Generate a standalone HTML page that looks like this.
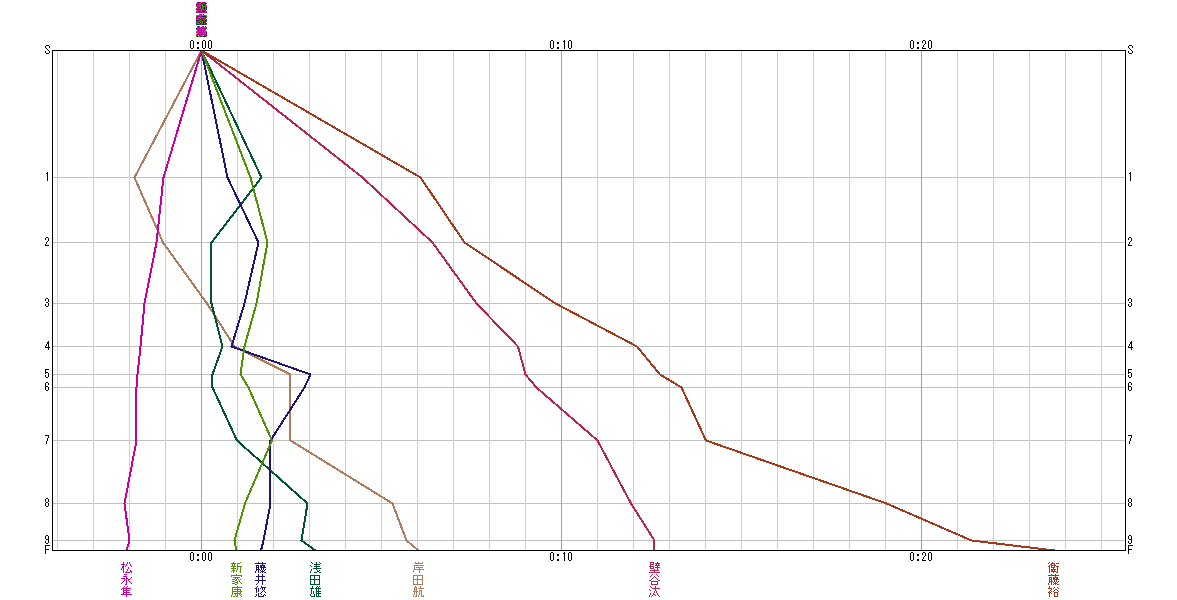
<!DOCTYPE html>
<html><head><meta charset="utf-8"><style>
html,body{margin:0;padding:0;background:#fff;overflow:hidden;}
body{width:1177px;height:600px;font-family:"Liberation Sans",sans-serif;}
svg{display:block;}
</style></head><body>
<svg width="1177" height="600" viewBox="0 0 1177 600">
<rect width="1177" height="600" fill="#fff"/>
<rect x="53" y="177" width="1072" height="1" fill="#c0c0c0"/>
<rect x="53" y="242" width="1072" height="1" fill="#c0c0c0"/>
<rect x="53" y="303" width="1072" height="1" fill="#c0c0c0"/>
<rect x="53" y="346" width="1072" height="1" fill="#c0c0c0"/>
<rect x="53" y="374" width="1072" height="1" fill="#c0c0c0"/>
<rect x="53" y="387" width="1072" height="1" fill="#c0c0c0"/>
<rect x="53" y="440" width="1072" height="1" fill="#c0c0c0"/>
<rect x="53" y="503" width="1072" height="1" fill="#c0c0c0"/>
<rect x="53" y="540" width="1072" height="1" fill="#c0c0c0"/>
<rect x="57" y="51" width="1" height="499" fill="#d0d0d0"/>
<rect x="93" y="51" width="1" height="499" fill="#d0d0d0"/>
<rect x="129" y="51" width="1" height="499" fill="#d0d0d0"/>
<rect x="165" y="51" width="1" height="499" fill="#d0d0d0"/>
<rect x="201" y="51" width="1" height="499" fill="#a0a0a0"/>
<rect x="237" y="51" width="1" height="499" fill="#d0d0d0"/>
<rect x="273" y="51" width="1" height="499" fill="#d0d0d0"/>
<rect x="309" y="51" width="1" height="499" fill="#d0d0d0"/>
<rect x="345" y="51" width="1" height="499" fill="#d0d0d0"/>
<rect x="381" y="51" width="1" height="499" fill="#d0d0d0"/>
<rect x="417" y="51" width="1" height="499" fill="#d0d0d0"/>
<rect x="453" y="51" width="1" height="499" fill="#d0d0d0"/>
<rect x="489" y="51" width="1" height="499" fill="#d0d0d0"/>
<rect x="525" y="51" width="1" height="499" fill="#d0d0d0"/>
<rect x="561" y="51" width="1" height="499" fill="#a0a0a0"/>
<rect x="597" y="51" width="1" height="499" fill="#d0d0d0"/>
<rect x="633" y="51" width="1" height="499" fill="#d0d0d0"/>
<rect x="669" y="51" width="1" height="499" fill="#d0d0d0"/>
<rect x="705" y="51" width="1" height="499" fill="#d0d0d0"/>
<rect x="741" y="51" width="1" height="499" fill="#d0d0d0"/>
<rect x="777" y="51" width="1" height="499" fill="#d0d0d0"/>
<rect x="813" y="51" width="1" height="499" fill="#d0d0d0"/>
<rect x="849" y="51" width="1" height="499" fill="#d0d0d0"/>
<rect x="885" y="51" width="1" height="499" fill="#d0d0d0"/>
<rect x="921" y="51" width="1" height="499" fill="#a0a0a0"/>
<rect x="957" y="51" width="1" height="499" fill="#d0d0d0"/>
<rect x="993" y="51" width="1" height="499" fill="#d0d0d0"/>
<rect x="1029" y="51" width="1" height="499" fill="#d0d0d0"/>
<rect x="1065" y="51" width="1" height="499" fill="#d0d0d0"/>
<rect x="1101" y="51" width="1" height="499" fill="#d0d0d0"/>
<clipPath id="cp"><rect x="53" y="51" width="1072" height="499"/></clipPath><g clip-path="url(#cp)">
<polyline points="201.49,50.49 420.49,177.49 464.49,242.49 555.49,303.49 636.99,346.49 659.99,374.49 681.49,387.49 705.99,440.49 886.49,503.49 971.49,540.49 1054.49,550.49" fill="none" stroke="#a23a1a" stroke-width="2" stroke-linejoin="round" stroke-linecap="round" shape-rendering="crispEdges"/>
<polyline points="201.49,50.49 362.49,177.49 432.49,242.49 476.49,303.49 517.99,346.49 525.49,374.49 536.49,387.49 597.49,440.49 630.99,503.49 654.49,540.49 654.49,550.49" fill="none" stroke="#b82450" stroke-width="2" stroke-linejoin="round" stroke-linecap="round" shape-rendering="crispEdges"/>
<polyline points="201.49,50.49 134.49,177.49 162.99,242.49 206.99,303.49 234.49,346.49 290.49,374.49 290.49,387.49 290.49,440.49 392.49,503.49 406.49,540.49 418.49,550.49" fill="none" stroke="#ae7c5c" stroke-width="2" stroke-linejoin="round" stroke-linecap="round" shape-rendering="crispEdges"/>
<polyline points="201.49,50.49 261.49,177.49 211.49,242.49 211.49,303.49 222.49,346.49 212.49,374.49 212.49,387.49 236.99,440.49 307.49,503.49 301.49,540.49 315.49,550.49" fill="none" stroke="#005530" stroke-width="2" stroke-linejoin="round" stroke-linecap="round" shape-rendering="crispEdges"/>
<polyline points="201.49,50.49 227.49,177.49 258.49,242.49 244.49,303.49 231.49,346.49 310.49,374.49 304.49,387.49 270.49,440.49 270.49,503.49 263.49,540.49 260.99,550.49" fill="none" stroke="#1e1474" stroke-width="2" stroke-linejoin="round" stroke-linecap="round" shape-rendering="crispEdges"/>
<polyline points="201.49,50.49 250.49,177.49 267.49,242.49 256.49,303.49 244.49,346.49 240.49,374.49 248.49,387.49 271.99,440.49 244.99,503.49 234.49,540.49 236.49,550.49" fill="none" stroke="#4e9400" stroke-width="2" stroke-linejoin="round" stroke-linecap="round" shape-rendering="crispEdges"/>
<polyline points="201.49,50.49 163.49,177.49 156.49,242.49 144.49,303.49 140.49,346.49 137.49,374.49 136.49,387.49 136.49,440.49 124.49,503.49 129.49,540.49 126.49,550.49" fill="none" stroke="#c400a0" stroke-width="2" stroke-linejoin="round" stroke-linecap="round" shape-rendering="crispEdges"/>
</g>
<rect x="52" y="50" width="1074" height="1" fill="#000"/>
<rect x="52" y="550" width="1074" height="1" fill="#000"/>
<rect x="52" y="50" width="1" height="501" fill="#000"/>
<rect x="1125" y="50" width="1" height="501" fill="#000"/>
<path d="M46 45h3v1h-3zM45 46h1v1h-1zM49 46h1v1h-1zM45 47h1v1h-1zM49 47h1v1h-1zM46 48h1v1h-1zM47 49h1v1h-1zM48 50h1v1h-1zM45 51h1v1h-1zM49 51h1v1h-1zM45 52h1v1h-1zM49 52h1v1h-1zM46 53h3v1h-3zM1129 45h3v1h-3zM1128 46h1v1h-1zM1132 46h1v1h-1zM1128 47h1v1h-1zM1132 47h1v1h-1zM1129 48h1v1h-1zM1130 49h1v1h-1zM1131 50h1v1h-1zM1128 51h1v1h-1zM1132 51h1v1h-1zM1128 52h1v1h-1zM1132 52h1v1h-1zM1129 53h3v1h-3zM47 172h1v1h-1zM46 173h2v1h-2zM47 174h1v1h-1zM47 175h1v1h-1zM47 176h1v1h-1zM47 177h1v1h-1zM47 178h1v1h-1zM47 179h1v1h-1zM47 180h1v1h-1zM1130 172h1v1h-1zM1129 173h2v1h-2zM1130 174h1v1h-1zM1130 175h1v1h-1zM1130 176h1v1h-1zM1130 177h1v1h-1zM1130 178h1v1h-1zM1130 179h1v1h-1zM1130 180h1v1h-1zM46 237h2v1h-2zM45 238h1v1h-1zM48 238h1v1h-1zM45 239h1v1h-1zM48 239h1v1h-1zM48 240h1v1h-1zM47 241h1v1h-1zM46 242h1v1h-1zM46 243h1v1h-1zM45 244h1v1h-1zM45 245h4v1h-4zM1129 237h2v1h-2zM1128 238h1v1h-1zM1131 238h1v1h-1zM1128 239h1v1h-1zM1131 239h1v1h-1zM1131 240h1v1h-1zM1130 241h1v1h-1zM1129 242h1v1h-1zM1129 243h1v1h-1zM1128 244h1v1h-1zM1128 245h4v1h-4zM46 298h2v1h-2zM45 299h1v1h-1zM48 299h1v1h-1zM45 300h1v1h-1zM48 300h1v1h-1zM48 301h1v1h-1zM46 302h2v1h-2zM48 303h1v1h-1zM45 304h1v1h-1zM48 304h1v1h-1zM45 305h1v1h-1zM48 305h1v1h-1zM46 306h2v1h-2zM1129 298h2v1h-2zM1128 299h1v1h-1zM1131 299h1v1h-1zM1128 300h1v1h-1zM1131 300h1v1h-1zM1131 301h1v1h-1zM1129 302h2v1h-2zM1131 303h1v1h-1zM1128 304h1v1h-1zM1131 304h1v1h-1zM1128 305h1v1h-1zM1131 305h1v1h-1zM1129 306h2v1h-2zM48 341h1v1h-1zM47 342h2v1h-2zM47 343h2v1h-2zM46 344h1v1h-1zM48 344h1v1h-1zM46 345h1v1h-1zM48 345h1v1h-1zM45 346h1v1h-1zM48 346h1v1h-1zM45 347h5v1h-5zM48 348h1v1h-1zM48 349h1v1h-1zM1131 341h1v1h-1zM1130 342h2v1h-2zM1130 343h2v1h-2zM1129 344h1v1h-1zM1131 344h1v1h-1zM1129 345h1v1h-1zM1131 345h1v1h-1zM1128 346h1v1h-1zM1131 346h1v1h-1zM1128 347h5v1h-5zM1131 348h1v1h-1zM1131 349h1v1h-1zM45 369h4v1h-4zM45 370h1v1h-1zM45 371h1v1h-1zM45 372h3v1h-3zM45 373h1v1h-1zM48 373h1v1h-1zM48 374h1v1h-1zM45 375h1v1h-1zM48 375h1v1h-1zM45 376h1v1h-1zM48 376h1v1h-1zM46 377h2v1h-2zM1128 369h4v1h-4zM1128 370h1v1h-1zM1128 371h1v1h-1zM1128 372h3v1h-3zM1128 373h1v1h-1zM1131 373h1v1h-1zM1131 374h1v1h-1zM1128 375h1v1h-1zM1131 375h1v1h-1zM1128 376h1v1h-1zM1131 376h1v1h-1zM1129 377h2v1h-2zM46 382h2v1h-2zM45 383h1v1h-1zM48 383h1v1h-1zM45 384h1v1h-1zM48 384h1v1h-1zM45 385h1v1h-1zM45 386h3v1h-3zM45 387h1v1h-1zM48 387h1v1h-1zM45 388h1v1h-1zM48 388h1v1h-1zM45 389h1v1h-1zM48 389h1v1h-1zM46 390h2v1h-2zM1129 382h2v1h-2zM1128 383h1v1h-1zM1131 383h1v1h-1zM1128 384h1v1h-1zM1131 384h1v1h-1zM1128 385h1v1h-1zM1128 386h3v1h-3zM1128 387h1v1h-1zM1131 387h1v1h-1zM1128 388h1v1h-1zM1131 388h1v1h-1zM1128 389h1v1h-1zM1131 389h1v1h-1zM1129 390h2v1h-2zM45 435h4v1h-4zM48 436h1v1h-1zM48 437h1v1h-1zM47 438h1v1h-1zM47 439h1v1h-1zM47 440h1v1h-1zM46 441h1v1h-1zM46 442h1v1h-1zM46 443h1v1h-1zM1128 435h4v1h-4zM1131 436h1v1h-1zM1131 437h1v1h-1zM1130 438h1v1h-1zM1130 439h1v1h-1zM1130 440h1v1h-1zM1129 441h1v1h-1zM1129 442h1v1h-1zM1129 443h1v1h-1zM46 498h2v1h-2zM45 499h1v1h-1zM48 499h1v1h-1zM45 500h1v1h-1zM48 500h1v1h-1zM45 501h1v1h-1zM48 501h1v1h-1zM46 502h2v1h-2zM45 503h1v1h-1zM48 503h1v1h-1zM45 504h1v1h-1zM48 504h1v1h-1zM45 505h1v1h-1zM48 505h1v1h-1zM46 506h2v1h-2zM1129 498h2v1h-2zM1128 499h1v1h-1zM1131 499h1v1h-1zM1128 500h1v1h-1zM1131 500h1v1h-1zM1128 501h1v1h-1zM1131 501h1v1h-1zM1129 502h2v1h-2zM1128 503h1v1h-1zM1131 503h1v1h-1zM1128 504h1v1h-1zM1131 504h1v1h-1zM1128 505h1v1h-1zM1131 505h1v1h-1zM1129 506h2v1h-2zM46 535h2v1h-2zM45 536h1v1h-1zM48 536h1v1h-1zM45 537h1v1h-1zM48 537h1v1h-1zM45 538h1v1h-1zM48 538h1v1h-1zM46 539h3v1h-3zM48 540h1v1h-1zM45 541h1v1h-1zM48 541h1v1h-1zM45 542h1v1h-1zM48 542h1v1h-1zM46 543h2v1h-2zM1129 535h2v1h-2zM1128 536h1v1h-1zM1131 536h1v1h-1zM1128 537h1v1h-1zM1131 537h1v1h-1zM1128 538h1v1h-1zM1131 538h1v1h-1zM1129 539h3v1h-3zM1131 540h1v1h-1zM1128 541h1v1h-1zM1131 541h1v1h-1zM1128 542h1v1h-1zM1131 542h1v1h-1zM1129 543h2v1h-2zM45 545h5v1h-5zM45 546h1v1h-1zM45 547h1v1h-1zM45 548h1v1h-1zM45 549h4v1h-4zM45 550h1v1h-1zM45 551h1v1h-1zM45 552h1v1h-1zM45 553h1v1h-1zM1128 545h5v1h-5zM1128 546h1v1h-1zM1128 547h1v1h-1zM1128 548h1v1h-1zM1128 549h4v1h-4zM1128 550h1v1h-1zM1128 551h1v1h-1zM1128 552h1v1h-1zM1128 553h1v1h-1zM191 40h2v1h-2zM190 41h1v1h-1zM193 41h1v1h-1zM190 42h1v1h-1zM193 42h1v1h-1zM190 43h1v1h-1zM193 43h1v1h-1zM190 44h1v1h-1zM193 44h1v1h-1zM190 45h1v1h-1zM193 45h1v1h-1zM190 46h1v1h-1zM193 46h1v1h-1zM190 47h1v1h-1zM193 47h1v1h-1zM191 48h2v1h-2zM197 42h2v1h-2zM197 43h2v1h-2zM197 47h2v1h-2zM197 48h2v1h-2zM203 40h2v1h-2zM202 41h1v1h-1zM205 41h1v1h-1zM202 42h1v1h-1zM205 42h1v1h-1zM202 43h1v1h-1zM205 43h1v1h-1zM202 44h1v1h-1zM205 44h1v1h-1zM202 45h1v1h-1zM205 45h1v1h-1zM202 46h1v1h-1zM205 46h1v1h-1zM202 47h1v1h-1zM205 47h1v1h-1zM203 48h2v1h-2zM209 40h2v1h-2zM208 41h1v1h-1zM211 41h1v1h-1zM208 42h1v1h-1zM211 42h1v1h-1zM208 43h1v1h-1zM211 43h1v1h-1zM208 44h1v1h-1zM211 44h1v1h-1zM208 45h1v1h-1zM211 45h1v1h-1zM208 46h1v1h-1zM211 46h1v1h-1zM208 47h1v1h-1zM211 47h1v1h-1zM209 48h2v1h-2zM191 552h2v1h-2zM190 553h1v1h-1zM193 553h1v1h-1zM190 554h1v1h-1zM193 554h1v1h-1zM190 555h1v1h-1zM193 555h1v1h-1zM190 556h1v1h-1zM193 556h1v1h-1zM190 557h1v1h-1zM193 557h1v1h-1zM190 558h1v1h-1zM193 558h1v1h-1zM190 559h1v1h-1zM193 559h1v1h-1zM191 560h2v1h-2zM197 554h2v1h-2zM197 555h2v1h-2zM197 559h2v1h-2zM197 560h2v1h-2zM203 552h2v1h-2zM202 553h1v1h-1zM205 553h1v1h-1zM202 554h1v1h-1zM205 554h1v1h-1zM202 555h1v1h-1zM205 555h1v1h-1zM202 556h1v1h-1zM205 556h1v1h-1zM202 557h1v1h-1zM205 557h1v1h-1zM202 558h1v1h-1zM205 558h1v1h-1zM202 559h1v1h-1zM205 559h1v1h-1zM203 560h2v1h-2zM209 552h2v1h-2zM208 553h1v1h-1zM211 553h1v1h-1zM208 554h1v1h-1zM211 554h1v1h-1zM208 555h1v1h-1zM211 555h1v1h-1zM208 556h1v1h-1zM211 556h1v1h-1zM208 557h1v1h-1zM211 557h1v1h-1zM208 558h1v1h-1zM211 558h1v1h-1zM208 559h1v1h-1zM211 559h1v1h-1zM209 560h2v1h-2zM551 40h2v1h-2zM550 41h1v1h-1zM553 41h1v1h-1zM550 42h1v1h-1zM553 42h1v1h-1zM550 43h1v1h-1zM553 43h1v1h-1zM550 44h1v1h-1zM553 44h1v1h-1zM550 45h1v1h-1zM553 45h1v1h-1zM550 46h1v1h-1zM553 46h1v1h-1zM550 47h1v1h-1zM553 47h1v1h-1zM551 48h2v1h-2zM557 42h2v1h-2zM557 43h2v1h-2zM557 47h2v1h-2zM557 48h2v1h-2zM564 40h1v1h-1zM563 41h2v1h-2zM564 42h1v1h-1zM564 43h1v1h-1zM564 44h1v1h-1zM564 45h1v1h-1zM564 46h1v1h-1zM564 47h1v1h-1zM564 48h1v1h-1zM569 40h2v1h-2zM568 41h1v1h-1zM571 41h1v1h-1zM568 42h1v1h-1zM571 42h1v1h-1zM568 43h1v1h-1zM571 43h1v1h-1zM568 44h1v1h-1zM571 44h1v1h-1zM568 45h1v1h-1zM571 45h1v1h-1zM568 46h1v1h-1zM571 46h1v1h-1zM568 47h1v1h-1zM571 47h1v1h-1zM569 48h2v1h-2zM551 552h2v1h-2zM550 553h1v1h-1zM553 553h1v1h-1zM550 554h1v1h-1zM553 554h1v1h-1zM550 555h1v1h-1zM553 555h1v1h-1zM550 556h1v1h-1zM553 556h1v1h-1zM550 557h1v1h-1zM553 557h1v1h-1zM550 558h1v1h-1zM553 558h1v1h-1zM550 559h1v1h-1zM553 559h1v1h-1zM551 560h2v1h-2zM557 554h2v1h-2zM557 555h2v1h-2zM557 559h2v1h-2zM557 560h2v1h-2zM564 552h1v1h-1zM563 553h2v1h-2zM564 554h1v1h-1zM564 555h1v1h-1zM564 556h1v1h-1zM564 557h1v1h-1zM564 558h1v1h-1zM564 559h1v1h-1zM564 560h1v1h-1zM569 552h2v1h-2zM568 553h1v1h-1zM571 553h1v1h-1zM568 554h1v1h-1zM571 554h1v1h-1zM568 555h1v1h-1zM571 555h1v1h-1zM568 556h1v1h-1zM571 556h1v1h-1zM568 557h1v1h-1zM571 557h1v1h-1zM568 558h1v1h-1zM571 558h1v1h-1zM568 559h1v1h-1zM571 559h1v1h-1zM569 560h2v1h-2zM911 40h2v1h-2zM910 41h1v1h-1zM913 41h1v1h-1zM910 42h1v1h-1zM913 42h1v1h-1zM910 43h1v1h-1zM913 43h1v1h-1zM910 44h1v1h-1zM913 44h1v1h-1zM910 45h1v1h-1zM913 45h1v1h-1zM910 46h1v1h-1zM913 46h1v1h-1zM910 47h1v1h-1zM913 47h1v1h-1zM911 48h2v1h-2zM917 42h2v1h-2zM917 43h2v1h-2zM917 47h2v1h-2zM917 48h2v1h-2zM923 40h2v1h-2zM922 41h1v1h-1zM925 41h1v1h-1zM922 42h1v1h-1zM925 42h1v1h-1zM925 43h1v1h-1zM924 44h1v1h-1zM923 45h1v1h-1zM923 46h1v1h-1zM922 47h1v1h-1zM922 48h4v1h-4zM929 40h2v1h-2zM928 41h1v1h-1zM931 41h1v1h-1zM928 42h1v1h-1zM931 42h1v1h-1zM928 43h1v1h-1zM931 43h1v1h-1zM928 44h1v1h-1zM931 44h1v1h-1zM928 45h1v1h-1zM931 45h1v1h-1zM928 46h1v1h-1zM931 46h1v1h-1zM928 47h1v1h-1zM931 47h1v1h-1zM929 48h2v1h-2zM911 552h2v1h-2zM910 553h1v1h-1zM913 553h1v1h-1zM910 554h1v1h-1zM913 554h1v1h-1zM910 555h1v1h-1zM913 555h1v1h-1zM910 556h1v1h-1zM913 556h1v1h-1zM910 557h1v1h-1zM913 557h1v1h-1zM910 558h1v1h-1zM913 558h1v1h-1zM910 559h1v1h-1zM913 559h1v1h-1zM911 560h2v1h-2zM917 554h2v1h-2zM917 555h2v1h-2zM917 559h2v1h-2zM917 560h2v1h-2zM923 552h2v1h-2zM922 553h1v1h-1zM925 553h1v1h-1zM922 554h1v1h-1zM925 554h1v1h-1zM925 555h1v1h-1zM924 556h1v1h-1zM923 557h1v1h-1zM923 558h1v1h-1zM922 559h1v1h-1zM922 560h4v1h-4zM929 552h2v1h-2zM928 553h1v1h-1zM931 553h1v1h-1zM928 554h1v1h-1zM931 554h1v1h-1zM928 555h1v1h-1zM931 555h1v1h-1zM928 556h1v1h-1zM931 556h1v1h-1zM928 557h1v1h-1zM931 557h1v1h-1zM928 558h1v1h-1zM931 558h1v1h-1zM928 559h1v1h-1zM931 559h1v1h-1zM929 560h2v1h-2z" fill="#000"/>
<path d="M1049 562h1v1h-1zM1052 562h1v1h-1zM1048 563h1v1h-1zM1051 563h4v1h-4zM1056 563h3v1h-3zM1050 564h2v1h-2zM1054 564h1v1h-1zM1049 565h1v1h-1zM1051 565h5v1h-5zM1048 566h2v1h-2zM1051 566h1v1h-1zM1054 566h1v1h-1zM1056 566h3v1h-3zM1049 567h1v1h-1zM1051 567h4v1h-4zM1057 567h1v1h-1zM1049 568h1v1h-1zM1053 568h1v1h-1zM1057 568h1v1h-1zM1049 569h1v1h-1zM1051 569h5v1h-5zM1057 569h1v1h-1zM1049 570h1v1h-1zM1051 570h2v1h-2zM1054 570h1v1h-1zM1057 570h1v1h-1zM1049 571h1v1h-1zM1051 571h5v1h-5zM1057 571h1v1h-1zM1049 572h1v1h-1zM1053 572h1v1h-1zM1056 572h2v1h-2zM1051 574h1v1h-1zM1055 574h1v1h-1zM1048 575h11v1h-11zM1055 576h1v1h-1zM1049 577h3v1h-3zM1053 577h5v1h-5zM1049 578h1v1h-1zM1051 578h1v1h-1zM1053 578h2v1h-2zM1056 578h2v1h-2zM1049 579h3v1h-3zM1053 579h6v1h-6zM1049 580h1v1h-1zM1051 580h1v1h-1zM1054 580h1v1h-1zM1056 580h1v1h-1zM1049 581h4v1h-4zM1054 581h1v1h-1zM1056 581h1v1h-1zM1058 581h1v1h-1zM1049 582h1v1h-1zM1051 582h1v1h-1zM1053 582h1v1h-1zM1055 582h1v1h-1zM1057 582h1v1h-1zM1048 583h1v1h-1zM1051 583h1v1h-1zM1054 583h3v1h-3zM1048 584h1v1h-1zM1051 584h1v1h-1zM1053 584h1v1h-1zM1055 584h1v1h-1zM1057 584h2v1h-2zM1049 586h1v1h-1zM1049 587h1v1h-1zM1054 587h1v1h-1zM1057 587h1v1h-1zM1048 588h4v1h-4zM1053 588h1v1h-1zM1058 588h1v1h-1zM1051 589h1v1h-1zM1055 589h2v1h-2zM1050 590h1v1h-1zM1054 590h1v1h-1zM1057 590h1v1h-1zM1049 591h1v1h-1zM1051 591h1v1h-1zM1053 591h1v1h-1zM1058 591h1v1h-1zM1048 592h3v1h-3zM1054 592h4v1h-4zM1049 593h1v1h-1zM1051 593h1v1h-1zM1054 593h1v1h-1zM1057 593h1v1h-1zM1049 594h1v1h-1zM1054 594h1v1h-1zM1057 594h1v1h-1zM1049 595h1v1h-1zM1054 595h1v1h-1zM1057 595h1v1h-1zM1049 596h1v1h-1zM1054 596h4v1h-4z" fill="#a23a1a"/>
<path d="M650 562h4v1h-4zM657 562h1v1h-1zM650 563h1v1h-1zM653 563h1v1h-1zM655 563h5v1h-5zM650 564h4v1h-4zM656 564h1v1h-1zM658 564h1v1h-1zM650 565h1v1h-1zM655 565h5v1h-5zM649 566h5v1h-5zM657 566h1v1h-1zM650 567h1v1h-1zM653 567h1v1h-1zM655 567h5v1h-5zM650 568h4v1h-4zM657 568h1v1h-1zM654 569h1v1h-1zM657 569h1v1h-1zM650 570h9v1h-9zM654 571h1v1h-1zM649 572h11v1h-11zM652 574h1v1h-1zM656 574h1v1h-1zM651 575h1v1h-1zM657 575h1v1h-1zM650 576h1v1h-1zM654 576h1v1h-1zM658 576h1v1h-1zM653 577h1v1h-1zM655 577h1v1h-1zM652 578h1v1h-1zM656 578h1v1h-1zM651 579h1v1h-1zM657 579h1v1h-1zM649 580h2v1h-2zM658 580h2v1h-2zM651 581h7v1h-7zM651 582h1v1h-1zM657 582h1v1h-1zM651 583h1v1h-1zM657 583h1v1h-1zM651 584h7v1h-7zM650 586h1v1h-1zM655 586h1v1h-1zM651 587h1v1h-1zM655 587h1v1h-1zM652 588h8v1h-8zM649 589h1v1h-1zM655 589h1v1h-1zM650 590h1v1h-1zM655 590h1v1h-1zM654 591h1v1h-1zM656 591h1v1h-1zM654 592h1v1h-1zM656 592h1v1h-1zM650 593h1v1h-1zM653 593h1v1h-1zM657 593h1v1h-1zM650 594h1v1h-1zM653 594h2v1h-2zM657 594h1v1h-1zM649 595h1v1h-1zM652 595h1v1h-1zM655 595h1v1h-1zM658 595h1v1h-1zM649 596h1v1h-1zM651 596h1v1h-1zM659 596h1v1h-1z" fill="#b82450"/>
<path d="M415 562h1v1h-1zM418 562h1v1h-1zM422 562h1v1h-1zM415 563h8v1h-8zM414 565h10v1h-10zM414 566h1v1h-1zM414 567h1v1h-1zM416 567h7v1h-7zM414 568h1v1h-1zM419 568h1v1h-1zM414 569h10v1h-10zM413 570h1v1h-1zM419 570h1v1h-1zM413 571h1v1h-1zM419 571h1v1h-1zM419 572h1v1h-1zM413 575h10v1h-10zM413 576h1v1h-1zM417 576h1v1h-1zM422 576h1v1h-1zM413 577h1v1h-1zM417 577h1v1h-1zM422 577h1v1h-1zM413 578h1v1h-1zM417 578h1v1h-1zM422 578h1v1h-1zM413 579h10v1h-10zM413 580h1v1h-1zM417 580h1v1h-1zM422 580h1v1h-1zM413 581h1v1h-1zM417 581h1v1h-1zM422 581h1v1h-1zM413 582h1v1h-1zM417 582h1v1h-1zM422 582h1v1h-1zM413 583h1v1h-1zM417 583h1v1h-1zM422 583h1v1h-1zM413 584h10v1h-10zM415 586h1v1h-1zM420 586h1v1h-1zM414 587h3v1h-3zM420 587h1v1h-1zM414 588h1v1h-1zM416 588h1v1h-1zM418 588h6v1h-6zM414 589h3v1h-3zM414 590h1v1h-1zM416 590h1v1h-1zM419 590h3v1h-3zM413 591h5v1h-5zM419 591h1v1h-1zM421 591h1v1h-1zM414 592h1v1h-1zM416 592h1v1h-1zM419 592h1v1h-1zM421 592h1v1h-1zM414 593h1v1h-1zM416 593h1v1h-1zM419 593h1v1h-1zM421 593h1v1h-1zM414 594h1v1h-1zM416 594h1v1h-1zM419 594h1v1h-1zM421 594h1v1h-1zM413 595h1v1h-1zM416 595h1v1h-1zM418 595h1v1h-1zM421 595h1v1h-1zM423 595h1v1h-1zM413 596h1v1h-1zM415 596h2v1h-2zM418 596h1v1h-1zM421 596h3v1h-3z" fill="#ae7c5c"/>
<path d="M311 562h1v1h-1zM316 562h1v1h-1zM319 562h1v1h-1zM312 563h1v1h-1zM316 563h1v1h-1zM320 563h1v1h-1zM314 564h6v1h-6zM310 565h1v1h-1zM316 565h1v1h-1zM311 566h1v1h-1zM314 566h6v1h-6zM316 567h1v1h-1zM313 568h8v1h-8zM311 569h1v1h-1zM316 569h1v1h-1zM311 570h1v1h-1zM317 570h1v1h-1zM319 570h1v1h-1zM310 571h1v1h-1zM317 571h2v1h-2zM310 572h1v1h-1zM314 572h3v1h-3zM319 572h2v1h-2zM310 575h10v1h-10zM310 576h1v1h-1zM314 576h1v1h-1zM319 576h1v1h-1zM310 577h1v1h-1zM314 577h1v1h-1zM319 577h1v1h-1zM310 578h1v1h-1zM314 578h1v1h-1zM319 578h1v1h-1zM310 579h10v1h-10zM310 580h1v1h-1zM314 580h1v1h-1zM319 580h1v1h-1zM310 581h1v1h-1zM314 581h1v1h-1zM319 581h1v1h-1zM310 582h1v1h-1zM314 582h1v1h-1zM319 582h1v1h-1zM310 583h1v1h-1zM314 583h1v1h-1zM319 583h1v1h-1zM310 584h10v1h-10zM312 586h1v1h-1zM317 586h1v1h-1zM319 586h1v1h-1zM312 587h1v1h-1zM316 587h1v1h-1zM318 587h1v1h-1zM310 588h4v1h-4zM315 588h6v1h-6zM311 589h1v1h-1zM316 589h1v1h-1zM318 589h1v1h-1zM311 590h1v1h-1zM316 590h1v1h-1zM318 590h1v1h-1zM311 591h1v1h-1zM313 591h1v1h-1zM316 591h5v1h-5zM311 592h1v1h-1zM313 592h1v1h-1zM316 592h1v1h-1zM318 592h1v1h-1zM311 593h1v1h-1zM313 593h1v1h-1zM316 593h5v1h-5zM310 594h1v1h-1zM314 594h1v1h-1zM316 594h1v1h-1zM318 594h1v1h-1zM310 595h1v1h-1zM314 595h1v1h-1zM316 595h1v1h-1zM318 595h1v1h-1zM311 596h4v1h-4zM316 596h5v1h-5z" fill="#005530"/>
<path d="M258 562h1v1h-1zM262 562h1v1h-1zM255 563h11v1h-11zM262 564h1v1h-1zM256 565h3v1h-3zM260 565h5v1h-5zM256 566h1v1h-1zM258 566h1v1h-1zM260 566h2v1h-2zM263 566h2v1h-2zM256 567h3v1h-3zM260 567h6v1h-6zM256 568h1v1h-1zM258 568h1v1h-1zM261 568h1v1h-1zM263 568h1v1h-1zM256 569h4v1h-4zM261 569h1v1h-1zM263 569h1v1h-1zM265 569h1v1h-1zM256 570h1v1h-1zM258 570h1v1h-1zM260 570h1v1h-1zM262 570h1v1h-1zM264 570h1v1h-1zM255 571h1v1h-1zM258 571h1v1h-1zM261 571h3v1h-3zM255 572h1v1h-1zM258 572h1v1h-1zM260 572h1v1h-1zM262 572h1v1h-1zM264 572h2v1h-2zM258 574h1v1h-1zM262 574h1v1h-1zM258 575h1v1h-1zM262 575h1v1h-1zM256 576h9v1h-9zM258 577h1v1h-1zM262 577h1v1h-1zM258 578h1v1h-1zM262 578h1v1h-1zM258 579h1v1h-1zM262 579h1v1h-1zM255 580h11v1h-11zM258 581h1v1h-1zM262 581h1v1h-1zM258 582h1v1h-1zM262 582h1v1h-1zM257 583h1v1h-1zM262 583h1v1h-1zM256 584h1v1h-1zM262 584h1v1h-1zM257 586h1v1h-1zM261 586h1v1h-1zM256 587h1v1h-1zM261 587h5v1h-5zM255 588h2v1h-2zM258 588h1v1h-1zM260 588h1v1h-1zM262 588h1v1h-1zM264 588h1v1h-1zM256 589h1v1h-1zM258 589h1v1h-1zM262 589h1v1h-1zM264 589h1v1h-1zM256 590h1v1h-1zM258 590h1v1h-1zM263 590h1v1h-1zM256 591h1v1h-1zM258 591h1v1h-1zM262 591h1v1h-1zM264 591h1v1h-1zM256 592h1v1h-1zM261 592h1v1h-1zM265 592h1v1h-1zM258 593h1v1h-1zM260 593h1v1h-1zM256 594h1v1h-1zM258 594h1v1h-1zM261 594h1v1h-1zM264 594h1v1h-1zM256 595h1v1h-1zM258 595h1v1h-1zM263 595h1v1h-1zM265 595h1v1h-1zM255 596h1v1h-1zM258 596h6v1h-6z" fill="#1e1474"/>
<path d="M233 562h1v1h-1zM240 562h1v1h-1zM231 563h5v1h-5zM237 563h3v1h-3zM232 564h1v1h-1zM234 564h1v1h-1zM237 564h1v1h-1zM232 565h1v1h-1zM234 565h1v1h-1zM237 565h1v1h-1zM231 566h5v1h-5zM237 566h5v1h-5zM233 567h1v1h-1zM237 567h1v1h-1zM240 567h1v1h-1zM231 568h5v1h-5zM237 568h1v1h-1zM240 568h1v1h-1zM233 569h1v1h-1zM237 569h1v1h-1zM240 569h1v1h-1zM232 570h3v1h-3zM236 570h1v1h-1zM240 570h1v1h-1zM231 571h1v1h-1zM233 571h1v1h-1zM236 571h1v1h-1zM240 571h1v1h-1zM233 572h1v1h-1zM240 572h1v1h-1zM236 574h1v1h-1zM231 575h11v1h-11zM231 576h1v1h-1zM241 576h1v1h-1zM233 577h7v1h-7zM235 578h1v1h-1zM237 578h1v1h-1zM232 579h3v1h-3zM236 579h1v1h-1zM238 579h1v1h-1zM240 579h1v1h-1zM235 580h2v1h-2zM239 580h1v1h-1zM232 581h3v1h-3zM237 581h1v1h-1zM239 581h1v1h-1zM235 582h3v1h-3zM240 582h1v1h-1zM232 583h3v1h-3zM237 583h1v1h-1zM241 583h1v1h-1zM235 584h2v1h-2zM237 586h1v1h-1zM232 587h10v1h-10zM232 588h1v1h-1zM237 588h1v1h-1zM232 589h1v1h-1zM234 589h7v1h-7zM232 590h1v1h-1zM237 590h1v1h-1zM240 590h1v1h-1zM232 591h10v1h-10zM232 592h1v1h-1zM237 592h1v1h-1zM240 592h1v1h-1zM232 593h1v1h-1zM234 593h7v1h-7zM232 594h1v1h-1zM235 594h1v1h-1zM237 594h1v1h-1zM239 594h1v1h-1zM241 594h1v1h-1zM231 595h1v1h-1zM235 595h1v1h-1zM237 595h1v1h-1zM240 595h1v1h-1zM231 596h1v1h-1zM233 596h2v1h-2zM236 596h2v1h-2zM241 596h1v1h-1z" fill="#4e9400"/>
<path d="M123 562h1v1h-1zM127 562h1v1h-1zM129 562h1v1h-1zM123 563h1v1h-1zM127 563h1v1h-1zM129 563h1v1h-1zM121 564h4v1h-4zM126 564h1v1h-1zM130 564h1v1h-1zM123 565h1v1h-1zM126 565h1v1h-1zM130 565h1v1h-1zM122 566h2v1h-2zM125 566h1v1h-1zM131 566h1v1h-1zM122 567h2v1h-2zM128 567h1v1h-1zM121 568h1v1h-1zM123 568h1v1h-1zM128 568h1v1h-1zM121 569h1v1h-1zM123 569h1v1h-1zM127 569h1v1h-1zM123 570h1v1h-1zM127 570h1v1h-1zM130 570h1v1h-1zM123 571h1v1h-1zM126 571h1v1h-1zM130 571h2v1h-2zM123 572h1v1h-1zM125 572h5v1h-5zM131 572h1v1h-1zM124 574h3v1h-3zM123 576h4v1h-4zM126 577h1v1h-1zM131 577h1v1h-1zM121 578h4v1h-4zM126 578h2v1h-2zM130 578h1v1h-1zM124 579h1v1h-1zM126 579h1v1h-1zM128 579h2v1h-2zM124 580h1v1h-1zM126 580h1v1h-1zM128 580h1v1h-1zM123 581h1v1h-1zM126 581h1v1h-1zM129 581h1v1h-1zM122 582h1v1h-1zM126 582h1v1h-1zM130 582h1v1h-1zM121 583h1v1h-1zM126 583h1v1h-1zM131 583h1v1h-1zM125 584h2v1h-2zM124 586h1v1h-1zM127 586h1v1h-1zM123 587h1v1h-1zM126 587h1v1h-1zM122 588h9v1h-9zM121 589h1v1h-1zM123 589h1v1h-1zM126 589h1v1h-1zM123 590h7v1h-7zM123 591h1v1h-1zM126 591h1v1h-1zM123 592h7v1h-7zM123 593h1v1h-1zM126 593h1v1h-1zM121 594h11v1h-11zM126 595h1v1h-1zM126 596h1v1h-1z" fill="#c400a0"/>
<path d="M197 2h1v1h-1zM200 2h1v1h-1zM196 3h1v1h-1zM199 3h4v1h-4zM204 3h3v1h-3zM198 4h2v1h-2zM202 4h1v1h-1zM197 5h1v1h-1zM199 5h5v1h-5zM196 6h2v1h-2zM199 6h1v1h-1zM202 6h1v1h-1zM204 6h3v1h-3zM197 7h1v1h-1zM199 7h4v1h-4zM205 7h1v1h-1zM197 8h1v1h-1zM201 8h1v1h-1zM205 8h1v1h-1zM197 9h1v1h-1zM199 9h5v1h-5zM205 9h1v1h-1zM197 10h1v1h-1zM199 10h2v1h-2zM202 10h1v1h-1zM205 10h1v1h-1zM197 11h1v1h-1zM199 11h5v1h-5zM205 11h1v1h-1zM197 12h1v1h-1zM201 12h1v1h-1zM204 12h2v1h-2zM199 14h1v1h-1zM203 14h1v1h-1zM196 15h11v1h-11zM203 16h1v1h-1zM197 17h3v1h-3zM201 17h5v1h-5zM197 18h1v1h-1zM199 18h1v1h-1zM201 18h2v1h-2zM204 18h2v1h-2zM197 19h3v1h-3zM201 19h6v1h-6zM197 20h1v1h-1zM199 20h1v1h-1zM202 20h1v1h-1zM204 20h1v1h-1zM197 21h4v1h-4zM202 21h1v1h-1zM204 21h1v1h-1zM206 21h1v1h-1zM197 22h1v1h-1zM199 22h1v1h-1zM201 22h1v1h-1zM203 22h1v1h-1zM205 22h1v1h-1zM196 23h1v1h-1zM199 23h1v1h-1zM202 23h3v1h-3zM196 24h1v1h-1zM199 24h1v1h-1zM201 24h1v1h-1zM203 24h1v1h-1zM205 24h2v1h-2zM197 26h1v1h-1zM197 27h1v1h-1zM202 27h1v1h-1zM205 27h1v1h-1zM196 28h4v1h-4zM201 28h1v1h-1zM206 28h1v1h-1zM199 29h1v1h-1zM203 29h2v1h-2zM198 30h1v1h-1zM202 30h1v1h-1zM205 30h1v1h-1zM197 31h1v1h-1zM199 31h1v1h-1zM201 31h1v1h-1zM206 31h1v1h-1zM196 32h3v1h-3zM202 32h4v1h-4zM197 33h1v1h-1zM199 33h1v1h-1zM202 33h1v1h-1zM205 33h1v1h-1zM197 34h1v1h-1zM202 34h1v1h-1zM205 34h1v1h-1zM197 35h1v1h-1zM202 35h1v1h-1zM205 35h1v1h-1zM197 36h1v1h-1zM202 36h4v1h-4z" fill="#a23a1a"/>
<path d="M197 2h4v1h-4zM204 2h1v1h-1zM197 3h1v1h-1zM200 3h1v1h-1zM202 3h5v1h-5zM197 4h4v1h-4zM203 4h1v1h-1zM205 4h1v1h-1zM197 5h1v1h-1zM202 5h5v1h-5zM196 6h5v1h-5zM204 6h1v1h-1zM197 7h1v1h-1zM200 7h1v1h-1zM202 7h5v1h-5zM197 8h4v1h-4zM204 8h1v1h-1zM201 9h1v1h-1zM204 9h1v1h-1zM197 10h9v1h-9zM201 11h1v1h-1zM196 12h11v1h-11zM199 14h1v1h-1zM203 14h1v1h-1zM198 15h1v1h-1zM204 15h1v1h-1zM197 16h1v1h-1zM201 16h1v1h-1zM205 16h1v1h-1zM200 17h1v1h-1zM202 17h1v1h-1zM199 18h1v1h-1zM203 18h1v1h-1zM198 19h1v1h-1zM204 19h1v1h-1zM196 20h2v1h-2zM205 20h2v1h-2zM198 21h7v1h-7zM198 22h1v1h-1zM204 22h1v1h-1zM198 23h1v1h-1zM204 23h1v1h-1zM198 24h7v1h-7zM197 26h1v1h-1zM202 26h1v1h-1zM198 27h1v1h-1zM202 27h1v1h-1zM199 28h8v1h-8zM196 29h1v1h-1zM202 29h1v1h-1zM197 30h1v1h-1zM202 30h1v1h-1zM201 31h1v1h-1zM203 31h1v1h-1zM201 32h1v1h-1zM203 32h1v1h-1zM197 33h1v1h-1zM200 33h1v1h-1zM204 33h1v1h-1zM197 34h1v1h-1zM200 34h2v1h-2zM204 34h1v1h-1zM196 35h1v1h-1zM199 35h1v1h-1zM202 35h1v1h-1zM205 35h1v1h-1zM196 36h1v1h-1zM198 36h1v1h-1zM206 36h1v1h-1z" fill="#b82450"/>
<path d="M198 2h1v1h-1zM201 2h1v1h-1zM205 2h1v1h-1zM198 3h8v1h-8zM197 5h10v1h-10zM197 6h1v1h-1zM197 7h1v1h-1zM199 7h7v1h-7zM197 8h1v1h-1zM202 8h1v1h-1zM197 9h10v1h-10zM196 10h1v1h-1zM202 10h1v1h-1zM196 11h1v1h-1zM202 11h1v1h-1zM202 12h1v1h-1zM196 15h10v1h-10zM196 16h1v1h-1zM200 16h1v1h-1zM205 16h1v1h-1zM196 17h1v1h-1zM200 17h1v1h-1zM205 17h1v1h-1zM196 18h1v1h-1zM200 18h1v1h-1zM205 18h1v1h-1zM196 19h10v1h-10zM196 20h1v1h-1zM200 20h1v1h-1zM205 20h1v1h-1zM196 21h1v1h-1zM200 21h1v1h-1zM205 21h1v1h-1zM196 22h1v1h-1zM200 22h1v1h-1zM205 22h1v1h-1zM196 23h1v1h-1zM200 23h1v1h-1zM205 23h1v1h-1zM196 24h10v1h-10zM198 26h1v1h-1zM203 26h1v1h-1zM197 27h3v1h-3zM203 27h1v1h-1zM197 28h1v1h-1zM199 28h1v1h-1zM201 28h6v1h-6zM197 29h3v1h-3zM197 30h1v1h-1zM199 30h1v1h-1zM202 30h3v1h-3zM196 31h5v1h-5zM202 31h1v1h-1zM204 31h1v1h-1zM197 32h1v1h-1zM199 32h1v1h-1zM202 32h1v1h-1zM204 32h1v1h-1zM197 33h1v1h-1zM199 33h1v1h-1zM202 33h1v1h-1zM204 33h1v1h-1zM197 34h1v1h-1zM199 34h1v1h-1zM202 34h1v1h-1zM204 34h1v1h-1zM196 35h1v1h-1zM199 35h1v1h-1zM201 35h1v1h-1zM204 35h1v1h-1zM206 35h1v1h-1zM196 36h1v1h-1zM198 36h2v1h-2zM201 36h1v1h-1zM204 36h3v1h-3z" fill="#ae7c5c"/>
<path d="M197 2h1v1h-1zM202 2h1v1h-1zM205 2h1v1h-1zM198 3h1v1h-1zM202 3h1v1h-1zM206 3h1v1h-1zM200 4h6v1h-6zM196 5h1v1h-1zM202 5h1v1h-1zM197 6h1v1h-1zM200 6h6v1h-6zM202 7h1v1h-1zM199 8h8v1h-8zM197 9h1v1h-1zM202 9h1v1h-1zM197 10h1v1h-1zM203 10h1v1h-1zM205 10h1v1h-1zM196 11h1v1h-1zM203 11h2v1h-2zM196 12h1v1h-1zM200 12h3v1h-3zM205 12h2v1h-2zM196 15h10v1h-10zM196 16h1v1h-1zM200 16h1v1h-1zM205 16h1v1h-1zM196 17h1v1h-1zM200 17h1v1h-1zM205 17h1v1h-1zM196 18h1v1h-1zM200 18h1v1h-1zM205 18h1v1h-1zM196 19h10v1h-10zM196 20h1v1h-1zM200 20h1v1h-1zM205 20h1v1h-1zM196 21h1v1h-1zM200 21h1v1h-1zM205 21h1v1h-1zM196 22h1v1h-1zM200 22h1v1h-1zM205 22h1v1h-1zM196 23h1v1h-1zM200 23h1v1h-1zM205 23h1v1h-1zM196 24h10v1h-10zM198 26h1v1h-1zM203 26h1v1h-1zM205 26h1v1h-1zM198 27h1v1h-1zM202 27h1v1h-1zM204 27h1v1h-1zM196 28h4v1h-4zM201 28h6v1h-6zM197 29h1v1h-1zM202 29h1v1h-1zM204 29h1v1h-1zM197 30h1v1h-1zM202 30h1v1h-1zM204 30h1v1h-1zM197 31h1v1h-1zM199 31h1v1h-1zM202 31h5v1h-5zM197 32h1v1h-1zM199 32h1v1h-1zM202 32h1v1h-1zM204 32h1v1h-1zM197 33h1v1h-1zM199 33h1v1h-1zM202 33h5v1h-5zM196 34h1v1h-1zM200 34h1v1h-1zM202 34h1v1h-1zM204 34h1v1h-1zM196 35h1v1h-1zM200 35h1v1h-1zM202 35h1v1h-1zM204 35h1v1h-1zM197 36h4v1h-4zM202 36h5v1h-5z" fill="#005530"/>
<path d="M199 2h1v1h-1zM203 2h1v1h-1zM196 3h11v1h-11zM203 4h1v1h-1zM197 5h3v1h-3zM201 5h5v1h-5zM197 6h1v1h-1zM199 6h1v1h-1zM201 6h2v1h-2zM204 6h2v1h-2zM197 7h3v1h-3zM201 7h6v1h-6zM197 8h1v1h-1zM199 8h1v1h-1zM202 8h1v1h-1zM204 8h1v1h-1zM197 9h4v1h-4zM202 9h1v1h-1zM204 9h1v1h-1zM206 9h1v1h-1zM197 10h1v1h-1zM199 10h1v1h-1zM201 10h1v1h-1zM203 10h1v1h-1zM205 10h1v1h-1zM196 11h1v1h-1zM199 11h1v1h-1zM202 11h3v1h-3zM196 12h1v1h-1zM199 12h1v1h-1zM201 12h1v1h-1zM203 12h1v1h-1zM205 12h2v1h-2zM199 14h1v1h-1zM203 14h1v1h-1zM199 15h1v1h-1zM203 15h1v1h-1zM197 16h9v1h-9zM199 17h1v1h-1zM203 17h1v1h-1zM199 18h1v1h-1zM203 18h1v1h-1zM199 19h1v1h-1zM203 19h1v1h-1zM196 20h11v1h-11zM199 21h1v1h-1zM203 21h1v1h-1zM199 22h1v1h-1zM203 22h1v1h-1zM198 23h1v1h-1zM203 23h1v1h-1zM197 24h1v1h-1zM203 24h1v1h-1zM198 26h1v1h-1zM202 26h1v1h-1zM197 27h1v1h-1zM202 27h5v1h-5zM196 28h2v1h-2zM199 28h1v1h-1zM201 28h1v1h-1zM203 28h1v1h-1zM205 28h1v1h-1zM197 29h1v1h-1zM199 29h1v1h-1zM203 29h1v1h-1zM205 29h1v1h-1zM197 30h1v1h-1zM199 30h1v1h-1zM204 30h1v1h-1zM197 31h1v1h-1zM199 31h1v1h-1zM203 31h1v1h-1zM205 31h1v1h-1zM197 32h1v1h-1zM202 32h1v1h-1zM206 32h1v1h-1zM199 33h1v1h-1zM201 33h1v1h-1zM197 34h1v1h-1zM199 34h1v1h-1zM202 34h1v1h-1zM205 34h1v1h-1zM197 35h1v1h-1zM199 35h1v1h-1zM204 35h1v1h-1zM206 35h1v1h-1zM196 36h1v1h-1zM199 36h6v1h-6z" fill="#1e1474"/>
<path d="M198 2h1v1h-1zM205 2h1v1h-1zM196 3h5v1h-5zM202 3h3v1h-3zM197 4h1v1h-1zM199 4h1v1h-1zM202 4h1v1h-1zM197 5h1v1h-1zM199 5h1v1h-1zM202 5h1v1h-1zM196 6h5v1h-5zM202 6h5v1h-5zM198 7h1v1h-1zM202 7h1v1h-1zM205 7h1v1h-1zM196 8h5v1h-5zM202 8h1v1h-1zM205 8h1v1h-1zM198 9h1v1h-1zM202 9h1v1h-1zM205 9h1v1h-1zM197 10h3v1h-3zM201 10h1v1h-1zM205 10h1v1h-1zM196 11h1v1h-1zM198 11h1v1h-1zM201 11h1v1h-1zM205 11h1v1h-1zM198 12h1v1h-1zM205 12h1v1h-1zM201 14h1v1h-1zM196 15h11v1h-11zM196 16h1v1h-1zM206 16h1v1h-1zM198 17h7v1h-7zM200 18h1v1h-1zM202 18h1v1h-1zM197 19h3v1h-3zM201 19h1v1h-1zM203 19h1v1h-1zM205 19h1v1h-1zM200 20h2v1h-2zM204 20h1v1h-1zM197 21h3v1h-3zM202 21h1v1h-1zM204 21h1v1h-1zM200 22h3v1h-3zM205 22h1v1h-1zM197 23h3v1h-3zM202 23h1v1h-1zM206 23h1v1h-1zM200 24h2v1h-2zM202 26h1v1h-1zM197 27h10v1h-10zM197 28h1v1h-1zM202 28h1v1h-1zM197 29h1v1h-1zM199 29h7v1h-7zM197 30h1v1h-1zM202 30h1v1h-1zM205 30h1v1h-1zM197 31h10v1h-10zM197 32h1v1h-1zM202 32h1v1h-1zM205 32h1v1h-1zM197 33h1v1h-1zM199 33h7v1h-7zM197 34h1v1h-1zM200 34h1v1h-1zM202 34h1v1h-1zM204 34h1v1h-1zM206 34h1v1h-1zM196 35h1v1h-1zM200 35h1v1h-1zM202 35h1v1h-1zM205 35h1v1h-1zM196 36h1v1h-1zM198 36h2v1h-2zM201 36h2v1h-2zM206 36h1v1h-1z" fill="#4e9400"/>
<path d="M198 2h1v1h-1zM202 2h1v1h-1zM204 2h1v1h-1zM198 3h1v1h-1zM202 3h1v1h-1zM204 3h1v1h-1zM196 4h4v1h-4zM201 4h1v1h-1zM205 4h1v1h-1zM198 5h1v1h-1zM201 5h1v1h-1zM205 5h1v1h-1zM197 6h2v1h-2zM200 6h1v1h-1zM206 6h1v1h-1zM197 7h2v1h-2zM203 7h1v1h-1zM196 8h1v1h-1zM198 8h1v1h-1zM203 8h1v1h-1zM196 9h1v1h-1zM198 9h1v1h-1zM202 9h1v1h-1zM198 10h1v1h-1zM202 10h1v1h-1zM205 10h1v1h-1zM198 11h1v1h-1zM201 11h1v1h-1zM205 11h2v1h-2zM198 12h1v1h-1zM200 12h5v1h-5zM206 12h1v1h-1zM199 14h3v1h-3zM198 16h4v1h-4zM201 17h1v1h-1zM206 17h1v1h-1zM196 18h4v1h-4zM201 18h2v1h-2zM205 18h1v1h-1zM199 19h1v1h-1zM201 19h1v1h-1zM203 19h2v1h-2zM199 20h1v1h-1zM201 20h1v1h-1zM203 20h1v1h-1zM198 21h1v1h-1zM201 21h1v1h-1zM204 21h1v1h-1zM197 22h1v1h-1zM201 22h1v1h-1zM205 22h1v1h-1zM196 23h1v1h-1zM201 23h1v1h-1zM206 23h1v1h-1zM200 24h2v1h-2zM199 26h1v1h-1zM202 26h1v1h-1zM198 27h1v1h-1zM201 27h1v1h-1zM197 28h9v1h-9zM196 29h1v1h-1zM198 29h1v1h-1zM201 29h1v1h-1zM198 30h7v1h-7zM198 31h1v1h-1zM201 31h1v1h-1zM198 32h7v1h-7zM198 33h1v1h-1zM201 33h1v1h-1zM196 34h11v1h-11zM201 35h1v1h-1zM201 36h1v1h-1z" fill="#c400a0"/>
</svg>
</body></html>
